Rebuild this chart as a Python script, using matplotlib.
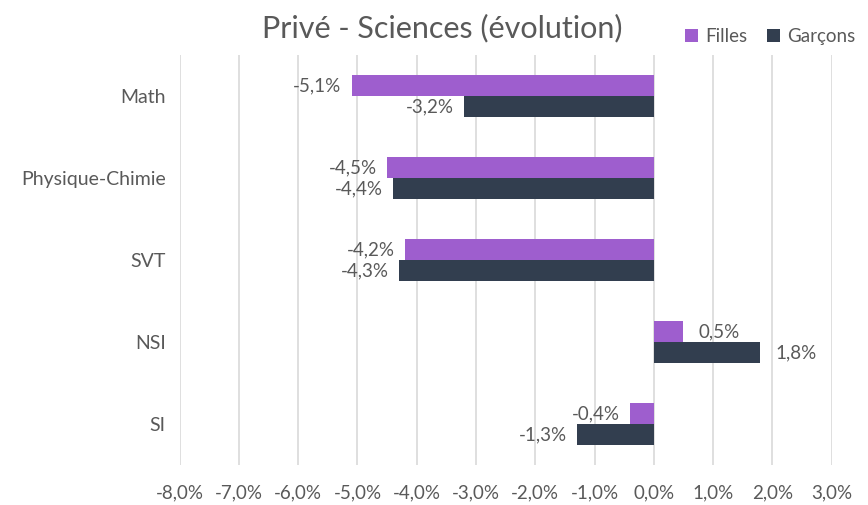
import numpy as np
import matplotlib.pyplot as plt

# Data (percent change)
categories = ["Math", "Physique-Chimie", "SVT", "NSI", "SI"]
filles = [-5.1, -4.5, -4.2, 0.5, -0.4]
garcons = [-3.2, -4.4, -4.3, 1.8, -1.3]
xticks = [-8, -7, -6, -5, -4, -3, -2, -1, 0, 1, 2, 3]

PURPLE = "#9E5ECE"
DARK = "#323E4F"
TEXT = "#595959"
GRID = "#D9D9D9"

plt.rcParams["font.family"] = ["Lato", "DejaVu Sans"]


def fmt(v):
    return f"{v:.1f}%".replace(".", ",")


fig = plt.figure(figsize=(8.68, 5.05), dpi=100)
ax = fig.add_axes([0.207, 0.079, 0.751, 0.812])

y = np.arange(len(categories))
h = 0.26
ax.barh(y - h / 2, filles, height=h, color=PURPLE, label="Filles")
ax.barh(y + h / 2, garcons, height=h, color=DARK, label="Garçons")

# data labels at the outer end of each bar
for yi, f, g in zip(y, filles, garcons):
    for v, off in ((f, -h / 2), (g, h / 2)):
        if v < 0:
            ax.text(v - 0.17, yi + off, fmt(v), ha="right", va="center",
                    fontsize=13.5, color=TEXT)
        else:
            ax.text(v + 0.25, yi + off, fmt(v), ha="left", va="center",
                    fontsize=13.5, color=TEXT)

ax.set_xlim(-8, 3)
ax.set_ylim(len(categories) - 0.5, -0.5)
ax.set_xticks(xticks)
ax.set_xticklabels([fmt(t) for t in xticks])
ax.set_yticks(y)
ax.set_yticklabels(categories)
ax.tick_params(axis="both", length=0, colors=TEXT)
ax.tick_params(axis="x", pad=14, labelsize=13.5)
ax.tick_params(axis="y", pad=10, labelsize=14)
ax.grid(axis="x", color=GRID, linewidth=1.2)
ax.set_axisbelow(True)
for s in ax.spines.values():
    s.set_visible(False)

fig.text(0.51, 0.945, "Privé - Sciences (évolution)", ha="center", va="center",
         fontsize=22, color=TEXT)
fig.legend(loc="center right", bbox_to_anchor=(1.005, 0.928), ncol=2, frameon=False,
           fontsize=13.5, labelcolor=TEXT, handlelength=0.7, handleheight=0.7,
           columnspacing=1.0, handletextpad=0.4)

fig.savefig("out.png", dpi=100)
